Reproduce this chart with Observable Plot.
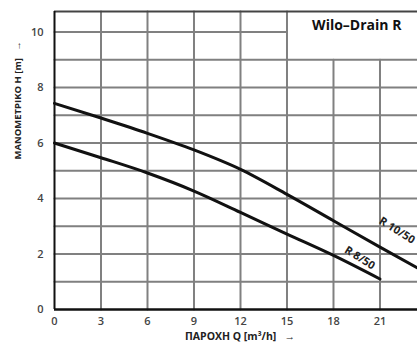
<!DOCTYPE html>
<html>
<head>
<meta charset="utf-8">
<script src="https://cdn.jsdelivr.net/npm/d3@7"></script>
<script src="https://cdn.jsdelivr.net/npm/@observablehq/plot@0.6"></script>
<style>
  html, body { margin: 0; padding: 0; background: #fff; }
  #chart svg { display: block; }
</style>
</head>
<body>
<div id="chart"></div>
<script>
// Data
const xTicks = [0, 3, 6, 9, 12, 15, 18, 21];
const yTicks = [0, 2, 4, 6, 8, 10];
const xGrid = [3, 6, 9, 12, 15, 18, 21];
const yGrid = [1, 2, 3, 4, 5, 6, 7, 8, 9, 10];

const flowR10 = [0, 3, 6, 9, 12, 15, 18, 21, 23.42];
const headR10 = [7.43, 6.9, 6.35, 5.75, 5.05, 4.15, 3.2, 2.25, 1.5];
const flowR8 = [0, 3, 6, 9, 12, 15, 18, 21];
const headR8 = [6.0, 5.47, 4.92, 4.27, 3.5, 2.72, 1.95, 1.1];

const seriesNames = ["R 10/50", "R 8/50"];
const labelX = [22.1, 19.7];
const labelY = [2.85, 1.86];

const titleText = "Wilo–Drain R";
const xLabel = "ΠΑΡΟΧΗ Q [m³/h]   →";
const yLabel = "ΜΑΝΟΜΕΤΡΙΚΟ Η [m]   →";

const xMax = 23.42, yMax = 10.74;
const boxX = 15, boxY = 9; // title box corner (grid units)

const r10 = flowR10.map((q, i) => ({q, h: headR10[i]}));
const r8 = flowR8.map((q, i) => ({q, h: headR8[i]}));
const labels = seriesNames.map((name, i) => ({name, x: labelX[i], y: labelY[i]}));

// grid segments built from the grid arrays (vertical lines stop under the title box)
const gridSegs = [
  ...xGrid.flatMap(v => [
    {id: "x" + v, x: v, y: 0},
    {id: "x" + v, x: v, y: v > boxX ? boxY : yMax}
  ]),
  ...yGrid.flatMap(v => [
    {id: "y" + v, x: 0, y: v},
    {id: "y" + v, x: v > boxY ? boxX : xMax, y: v}
  ])
];

const font = "'Open Sans', 'Liberation Sans', sans-serif";

const chart = Plot.plot({
  width: 417,
  height: 345,
  marginLeft: 54,
  marginRight: 0,
  marginTop: 11,
  marginBottom: 36,
  style: {fontFamily: font, background: "#fff"},
  x: {domain: [0, xMax]},
  y: {domain: [0, yMax]},
  marks: [
    Plot.line(gridSegs, {x: "x", y: "y", z: "id", stroke: "#808080", strokeWidth: 2}),
    Plot.ruleY([yMax], {stroke: "#444", strokeWidth: 2}),
    Plot.ruleX([0], {stroke: "#111", strokeWidth: 2}),
    Plot.ruleY([0], {stroke: "#111", strokeWidth: 2.6}),
    Plot.line(r10, {x: "q", y: "h", stroke: "#111", strokeWidth: 3, curve: "monotone-x"}),
    Plot.line(r8, {x: "q", y: "h", stroke: "#111", strokeWidth: 3, curve: "monotone-x"}),
    Plot.text(labels, {x: "x", y: "y", text: "name", rotate: 32, fontSize: 11, fontWeight: "bold", fill: "#222"}),
    Plot.text([titleText], {x: () => 19.5, y: () => 10.23, text: d => d, fontSize: 14, fontWeight: "bold", fill: "#111"}),
    Plot.axisX({ticks: xTicks, tickSize: 0, tickPadding: 8, fontSize: 11, fill: "#444", fontWeight: 600, label: null}),
    Plot.axisY({ticks: yTicks, tickSize: 0, tickPadding: 11, fontSize: 11, fill: "#444", fontWeight: 600, label: null}),
    Plot.text([xLabel], {frameAnchor: "bottom", dx: 4, dy: 30, text: d => d, fontSize: 10.5, fontWeight: "bold", fill: "#222"}),
    Plot.text([yLabel], {frameAnchor: "left", dx: -37, dy: -1, rotate: -90, text: d => d, fontSize: 9.5, fontWeight: "bold", fill: "#222"})
  ]
});
document.getElementById("chart").append(chart);
</script>
</body>
</html>
